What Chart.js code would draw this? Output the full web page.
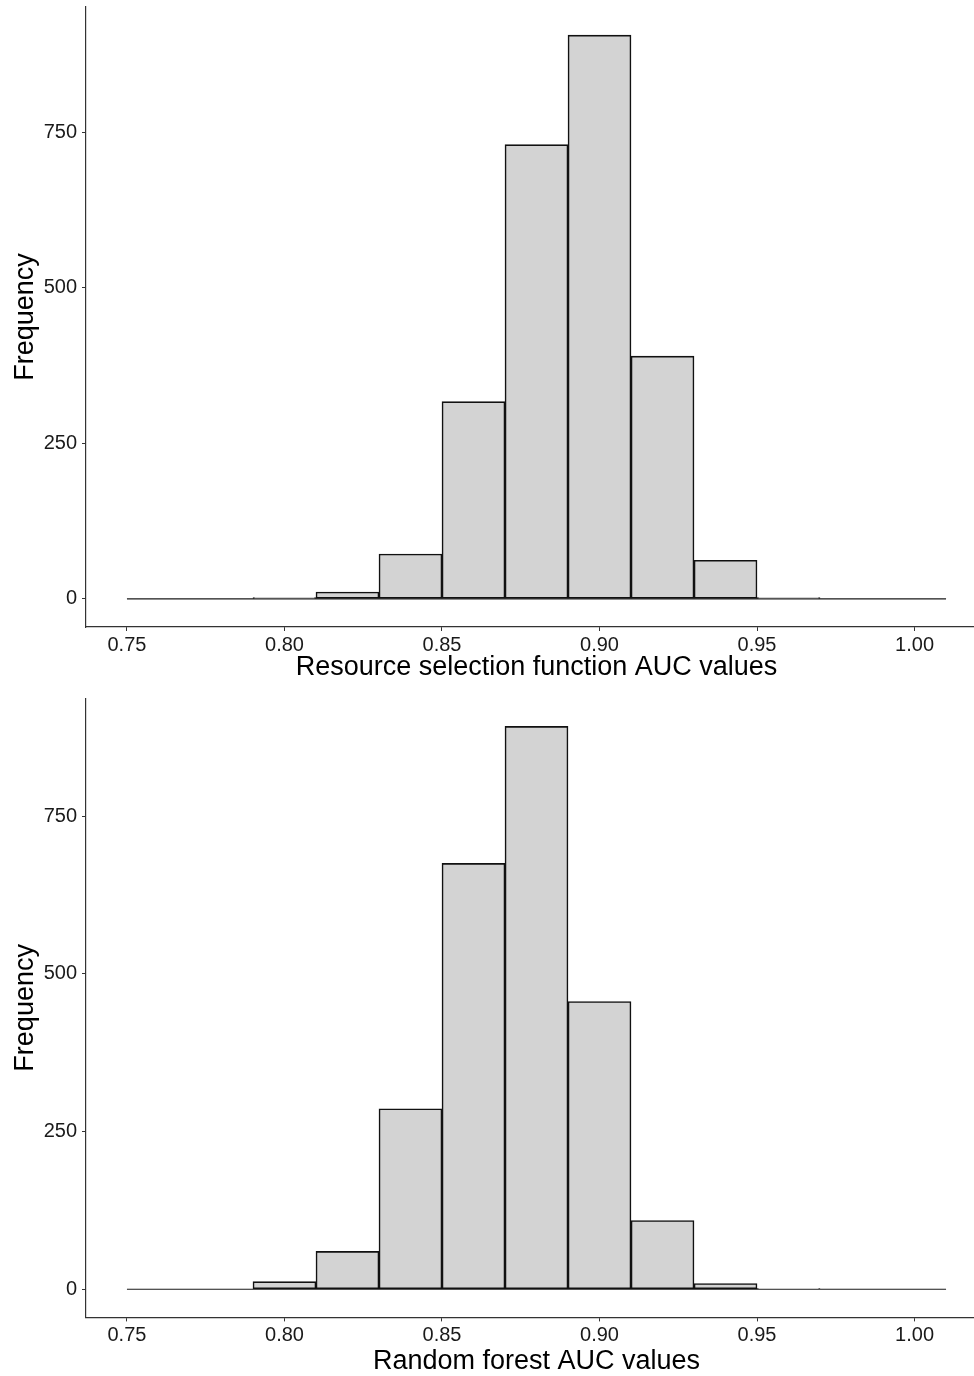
<!DOCTYPE html>
<html lang="en">
  <head>
    <meta charset="UTF-8" />
    <title>AUC histograms</title>
    <script src="https://cdn.jsdelivr.net/npm/chart.js"></script>
    <style>
      html,
      body {
        margin: 0;
        padding: 0;
        background: #fff;
        overflow: hidden;
        width: 974px;
        height: 1376px;
      }
      .panel {
        position: absolute;
        left: 0;
        width: 987px;
        height: 688px;
      }
    </style>
  </head>
  <body>
    <div class="panel" style="top: 0"><canvas id="rsfChart" width="987" height="688"></canvas></div>
    <div class="panel" style="top: 688px"><canvas id="rfChart" width="987" height="688"></canvas></div>

    <script>
      // bin centres (bins are 0.02 wide, 0.75 to 1.01)
      const binCenters = [0.76, 0.78, 0.8, 0.82, 0.84, 0.86, 0.88, 0.9, 0.92, 0.94, 0.96, 0.98, 1.0];
      const binRange = [0.75, 1.01];

      // counts
      const rsfCounts = [0, 0, 2, 11, 72, 317, 730, 906, 390, 62, 2, 0, 0];
      const rfCounts = [0, 0, 12, 60, 286, 675, 892, 456, 109, 9, 1, 0, 0];

      const xTicks = [0.75, 0.8, 0.85, 0.9, 0.95, 1.0];
      const yTicks = [0, 250, 500, 750];

      const FONT = "'Liberation Sans', Arial, sans-serif";

      function makeHistogram(canvasId, counts, xTitle, padTop, xAxisHeight, titlePad) {
        const maxCount = Math.max(...counts);
        const ctx = document.getElementById(canvasId).getContext("2d");
        return new Chart(ctx, {
          type: "bar",
          data: {
            datasets: [
              {
                type: "line",
                data: binRange.map((x) => ({ x: x, y: 0 })),
                borderColor: "#1a1a1a",
                borderWidth: 1.2,
                pointRadius: 0,
                order: 2,
              },
              {
                data: binCenters.map((x, i) => ({ x: x, y: counts[i] })),
                backgroundColor: "#d3d3d3",
                borderColor: "#111",
                borderWidth: 1.6,
                borderSkipped: false,
                barPercentage: 1,
                categoryPercentage: 1,
                order: 1,
              },
            ],
          },
          options: {
            responsive: false,
            animation: false,
            layout: { padding: { top: padTop, left: 0, right: 0, bottom: 0 } },
            plugins: { legend: { display: false }, tooltip: { enabled: false } },
            scales: {
              x: {
                type: "linear",
                offset: false,
                min: 0.737,
                max: 1.023,
                afterBuildTicks: (scale) => {
                  scale.ticks = xTicks.map((v) => ({ value: v }));
                },
                afterFit: (scale) => {
                  scale.height = xAxisHeight;
                  scale.paddingLeft = 0;
                  scale.paddingRight = 0;
                },
                grid: {
                  offset: false,
                  drawOnChartArea: false,
                  drawTicks: true,
                  tickLength: 4,
                  color: "#333",
                },
                border: { display: true, color: "#333", width: 1.2 },
                ticks: {
                  color: "#1a1a1a",
                  padding: 2,
                  maxRotation: 0,
                  font: { family: FONT, size: 20 },
                  callback: (v) => Number(v).toFixed(2),
                },
                title: {
                  display: true,
                  text: xTitle,
                  color: "#000",
                  font: { family: FONT, size: 27, lineHeight: 1 },
                  padding: { top: 0, bottom: titlePad },
                },
              },
              y: {
                min: -0.05 * maxCount,
                max: 1.05 * maxCount,
                afterBuildTicks: (scale) => {
                  scale.ticks = yTicks.map((v) => ({ value: v }));
                },
                afterFit: (scale) => {
                  scale.width = 86;
                  scale.paddingTop = 0;
                  scale.paddingBottom = 0;
                },
                grid: {
                  drawOnChartArea: false,
                  drawTicks: true,
                  tickLength: 4,
                  color: "#333",
                },
                border: { display: true, color: "#333", width: 1.2 },
                ticks: {
                  color: "#1a1a1a",
                  padding: 5,
                  font: { family: FONT, size: 20 },
                },
                title: {
                  display: true,
                  text: "Frequency",
                  color: "#000",
                  font: { family: FONT, size: 27, lineHeight: 1.2 },
                  padding: { top: 9, bottom: 0 },
                },
              },
            },
          },
        });
      }

      makeHistogram("rsfChart", rsfCounts, "Resource selection function AUC values", 7, 61, 6.5);
      makeHistogram("rfChart", rfCounts, "Random forest AUC values", 10.3, 58.6, 0.5);
    </script>
  </body>
</html>
